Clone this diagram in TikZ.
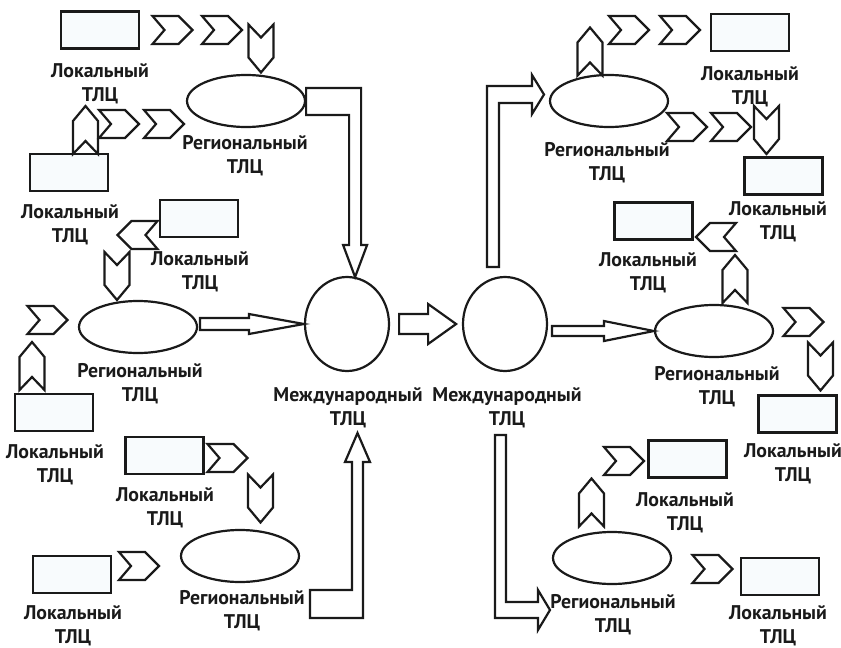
\documentclass[tikz,border=0pt]{standalone}
\usepackage{fontspec}
\setmainfont{PT Sans}
\usetikzlibrary{calc,shapes.geometric}
\definecolor{TLLine}{HTML}{1A1A1A}
\definecolor{TLFill}{HTML}{F8FBFD}
\tikzset{
  shp/.style={draw=TLLine,line width=2.2pt,fill=white,line join=miter},
  loc/.style={shp,fill=TLFill,rectangle,minimum width=78pt,minimum height=37pt,inner sep=0pt},
  reg/.style={shp,ellipse,minimum width=118pt,minimum height=52pt,inner sep=0pt},
  intl/.style={shp,ellipse,minimum width=84pt,minimum height=94pt,inner sep=0pt},
  lbl/.style={align=center,font=\fontsize{19.8}{24}\selectfont\bfseries,text=TLLine,inner sep=0pt},
  hchev/.pic={\draw[shp] (-20,-14) -- (6,-14) -- (20,0) -- (6,14) -- (-20,14) -- (-8,0) -- cycle;},
  vchev/.pic={\draw[shp] (-24,-12.5) -- (9,-12.5) -- (24,0) -- (9,12.5) -- (-24,12.5) -- (-11,0) -- cycle;},
}

\begin{document}
\begin{tikzpicture}[x=1pt,y=-1pt]
\path[use as bounding box] (0,0) rectangle (841,648);

% international centres
\node[intl] (c1) at (347,324) {};
\node[intl] (c2) at (505,324) {};
\node[lbl] (m1) at (348,408) {Международный\\ТЛЦ};
\node[lbl] (m2) at (507,408) {Международный\\ТЛЦ};

% regional centres
\node[reg] (e1) at (246,101) {};
\node[reg] (e2) at (138,327) {};
\node[reg] (e3) at (240,556) {};
\node[reg] (e4) at (609,101) {};
\node[reg] (e5) at (714,331) {};
\node[reg] (e6) at (612,558) {};
\node[lbl] (g1) at (245,156) {Региональный\\ТЛЦ};
\node[lbl] (g2) at (140,384) {Региональный\\ТЛЦ};
\node[lbl] (g3) at (242,611) {Региональный\\ТЛЦ};
\node[lbl] (g4) at (607,163) {Региональный\\ТЛЦ};
\node[lbl] (g5) at (717,387) {Региональный\\ТЛЦ};
\node[lbl] (g6) at (613,615) {Региональный\\ТЛЦ};

% local centres
\node[loc] (r1) at (100,30) {};
\node[loc] (r2) at (69,172.5) {};
\node[loc] (r3) at (199,218.5) {};
\node[loc] (r4) at (54,412.5) {};
\node[loc] (r5) at (164.5,455.5) {};
\node[loc] (r6) at (72,574.5) {};
\node[loc] (r7) at (750,32.5) {};
\node[loc] (r8) at (783.5,176) {};
\node[loc] (r9) at (653.5,221) {};
\node[loc] (r10) at (797.5,414) {};
\node[loc] (r11) at (687.5,459) {};
\node[loc] (r12) at (780,576.5) {};
\node[lbl] (t1) at (100,84) {Локальный\\ТЛЦ};
\node[lbl] (t2) at (70,225) {Локальный\\ТЛЦ};
\node[lbl] (t3) at (200,271.5) {Локальный\\ТЛЦ};
\node[lbl] (t4) at (55,465) {Локальный\\ТЛЦ};
\node[lbl] (t5) at (165,507.5) {Локальный\\ТЛЦ};
\node[lbl] (t6) at (73,625.5) {Локальный\\ТЛЦ};
\node[lbl] (t7) at (750,86.5) {Локальный\\ТЛЦ};
\node[lbl] (t8) at (778,221.5) {Локальный\\ТЛЦ};
\node[lbl] (t9) at (648,272.5) {Локальный\\ТЛЦ};
\node[lbl] (t10) at (793,463.5) {Локальный\\ТЛЦ};
\node[lbl] (t11) at (685,512.5) {Локальный\\ТЛЦ};
\node[lbl] (t12) at (778,625.5) {Локальный\\ТЛЦ};

% chevrons, left half
\pic at (172.5,30) {hchev};
\pic at (222,30) {hchev};
\pic[rotate=-90] at (261,48.5) {vchev};
\pic[rotate=90] at (85.5,130) {vchev};
\pic at (119,124) {hchev};
\pic at (164,124) {hchev};
\pic[rotate=180] at (137.5,235) {hchev};
\pic[rotate=-90] at (117,276) {vchev};
\pic at (47.5,320) {hchev};
\pic[rotate=90] at (32,366) {vchev};
\pic at (227.5,458) {hchev};
\pic[rotate=-90] at (260.5,498.5) {vchev};
\pic at (139,566) {hchev};

% chevrons, right half
\pic[rotate=90] at (590,51.5) {vchev};
\pic at (629,30) {hchev};
\pic at (680,30) {hchev};
\pic at (687,127) {hchev};
\pic at (731,127) {hchev};
\pic[rotate=-90] at (766.5,130) {vchev};
\pic[rotate=180] at (716,237) {hchev};
\pic[rotate=90] at (735,279) {vchev};
\pic at (803.5,322) {hchev};
\pic[rotate=-90] at (820.5,366.5) {vchev};
\pic at (624,461) {hchev};
\pic[rotate=90] at (591.5,502.5) {vchev};
\pic at (712.5,569) {hchev};

% block arrows
\draw[shp] ($(c1.west)+(-104,-6)$) -- ++(49,0) -- ++(0,-4) -- (c1.west)
  -- ++(-55,10) -- ++(0,-4) -- ++(-49,0) -- cycle;
\draw[shp] ($(c1.east)+(9,-10)$) -- ++(29,0) -- ++(0,-10) -- ++(28,20)
  -- ++(-28,20) -- ++(0,-10) -- ++(-29,0) -- cycle;
\draw[shp] ($(e5.west)+(-102,-5)$) -- ++(52,0) -- ++(0,-5) -- (e5.west)
  -- ++(-50,10) -- ++(0,-5) -- ++(-52,0) -- cycle;
\draw[shp] ($(e1.east)+(0,-13)$) -- ++(55,0) -- ++(0,157) -- ++(6,0) -- ++(-12,32)
  -- ++(-12,-32) -- ++(6,0) -- ++(0,-130) -- ++(-43,0) -- cycle;
\draw[shp] (310,590) -- (352,590) -- (352,462) -- (345,462) -- (357.5,433)
  -- (370,462) -- (363,462) -- (363,618) -- (310,618) -- cycle;
\draw[shp] (487,267) -- (487,86) -- (532,86) -- (532,75) -- (544,94.5)
  -- (532,114) -- (532,103) -- (499,103) -- (499,267) -- cycle;
\draw[shp] (495,435) -- (506,435) -- (506,602) -- (538,602) -- (538,590)
  -- (550,610) -- (538,630) -- (538,618) -- (495,618) -- cycle;
\end{tikzpicture}
\end{document}
